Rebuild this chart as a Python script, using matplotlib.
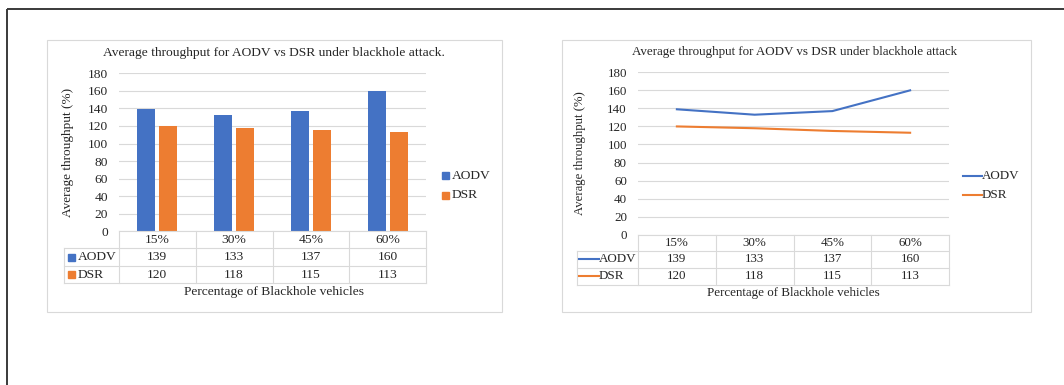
import matplotlib
matplotlib.use("Agg")
import matplotlib.pyplot as plt
import matplotlib.transforms as mtransforms
from matplotlib.patches import Rectangle
import numpy as np

W, H = 1064, 385

categories = ["15%", "30%", "45%", "60%"]
aodv = [139, 133, 137, 160]
dsr = [120, 118, 115, 113]
yticks = [0, 20, 40, 60, 80, 100, 120, 140, 160, 180]
series_names = ["AODV", "DSR"]

BLUE = "#4472C4"
ORANGE = "#ED7D31"
GRID = "#D9D9D9"
TXT = "#262626"

plt.rcParams["font.family"] = ["Liberation Serif", "DejaVu Serif"]

fig = plt.figure(figsize=(W / 100, H / 100), dpi=100)
# pixel coordinates, origin top-left
pix = mtransforms.Affine2D().scale(1 / W, -1 / H).translate(0, 1) + fig.transFigure


def axes_px(x0, y0, x1, y1):
    return fig.add_axes([x0 / W, 1 - y1 / H, (x1 - x0) / W, (y1 - y0) / H])


def hline(y, x0, x1, color=GRID, lw=0.8):
    fig.add_artist(plt.Line2D([x0, x1], [y, y], transform=pix, color=color, lw=lw))


def vline(x, y0, y1, color=GRID, lw=0.8):
    fig.add_artist(plt.Line2D([x, x], [y0, y1], transform=pix, color=color, lw=lw))


def label(x, y, s, fs, **kw):
    kw.setdefault("ha", "center")
    kw.setdefault("va", "center")
    fig.text(x, y, s, transform=kw.pop("transform", pix), fontsize=fs, color=TXT, **kw)


def setup_axes(ax, tick_pad, fs):
    ax.set_xlim(-0.5, len(categories) - 0.5)
    ax.set_ylim(0, 180)
    ax.set_yticks(yticks)
    ax.set_xticks([])
    for s in ax.spines.values():
        s.set_visible(False)
    ax.tick_params(axis="y", length=0, pad=tick_pad, labelsize=fs, labelcolor=TXT)
    ax.yaxis.grid(True, color=GRID, lw=0.8)
    ax.set_axisbelow(True)
    ax.patch.set_alpha(0)


def data_table(ax, left, rows, kind, fs):
    # rows: y boundaries (header top, header bottom, row1 bottom, row2 bottom)
    x0, x1 = ax.get_window_extent().x0, ax.get_window_extent().x1
    cols = [x0 + (x1 - x0) * i / len(categories) for i in range(len(categories) + 1)]
    cols = [c * W / fig.bbox.width for c in cols]
    hline(rows[0], cols[0], cols[-1])
    for y in rows[1:]:
        hline(y, left, cols[-1])
    vline(left, rows[1], rows[-1])
    for x in cols:
        vline(x, rows[0], rows[-1])
    tr = mtransforms.blended_transform_factory(ax.transData, pix)
    ymid = [(rows[i] + rows[i + 1]) / 2 for i in range(3)]
    for i, c in enumerate(categories):
        label(i, ymid[0], c, fs, transform=tr)
        label(i, ymid[1], str(aodv[i]), fs, transform=tr)
        label(i, ymid[2], str(dsr[i]), fs, transform=tr)
    for name, color, y in zip(series_names, [BLUE, ORANGE], ymid[1:]):
        if kind == "bar":
            fig.add_artist(Rectangle((left + 4, y - 3.5), 7, 7, transform=pix, color=color))
            label(left + 13.5, y, name, fs, ha="left")
        else:
            fig.add_artist(plt.Line2D([left + 2, left + 22], [y, y], transform=pix, color=color, lw=1.5))
            label(left + 22, y, name, fs, ha="left")


# outer frame
fig.add_artist(Rectangle((7, 8.5), 1100, 400, transform=pix, fill=False, ec="#3a3a3a", lw=1.4))
# chart area borders
fig.add_artist(Rectangle((47, 40), 455, 272, transform=pix, fill=False, ec=GRID, lw=0.8))
fig.add_artist(Rectangle((562, 40), 469, 272, transform=pix, fill=False, ec=GRID, lw=0.8))

x = np.arange(len(categories))

# ---- left: clustered columns ----
FS1 = 9.7
ax1 = axes_px(119, 73.3, 426, 231.3)
setup_axes(ax1, 8, FS1)
ax1.bar(x - 0.143, aodv, 0.235, color=BLUE, zorder=2)
ax1.bar(x + 0.143, dsr, 0.235, color=ORANGE, zorder=2)
data_table(ax1, 64, [231.3, 248.3, 265.7, 283.3], "bar", FS1)
label(274, 53, "Average throughput for AODV vs DSR under blackhole attack.", FS1)
label(274, 292.3, "Percentage of Blackhole vehicles", FS1)
label(68, 152, "Average throughput (%)", FS1 - 0.2, rotation=90)
for name, color, y in zip(series_names, [BLUE, ORANGE], [175.7, 195]):
    fig.add_artist(Rectangle((441.5, y - 3.5), 7, 7, transform=pix, color=color))
    label(451.5, y, name, FS1, ha="left")

# ---- right: lines ----
FS2 = 9.4
ax2 = axes_px(638, 72.3, 949, 234.7)
setup_axes(ax2, 8, FS2)
ax2.plot(x, aodv, color=BLUE, lw=1.5, zorder=3)
ax2.plot(x, dsr, color=ORANGE, lw=1.5, zorder=3)
data_table(ax2, 576.7, [234.7, 251, 267.7, 285], "line", FS2)
label(795, 52.3, "Average throughput for AODV vs DSR under blackhole attack", FS2)
label(793.5, 293.3, "Percentage of Blackhole vehicles", FS2)
label(580, 153, "Average throughput (%)", FS2 - 0.2, rotation=90)
for name, color, y in zip(series_names, [BLUE, ORANGE], [175.7, 195]):
    fig.add_artist(plt.Line2D([963, 982], [y, y], transform=pix, color=color, lw=1.5))
    label(982, y, name, FS2, ha="left")

fig.savefig("out.png", dpi=100, facecolor="white")
